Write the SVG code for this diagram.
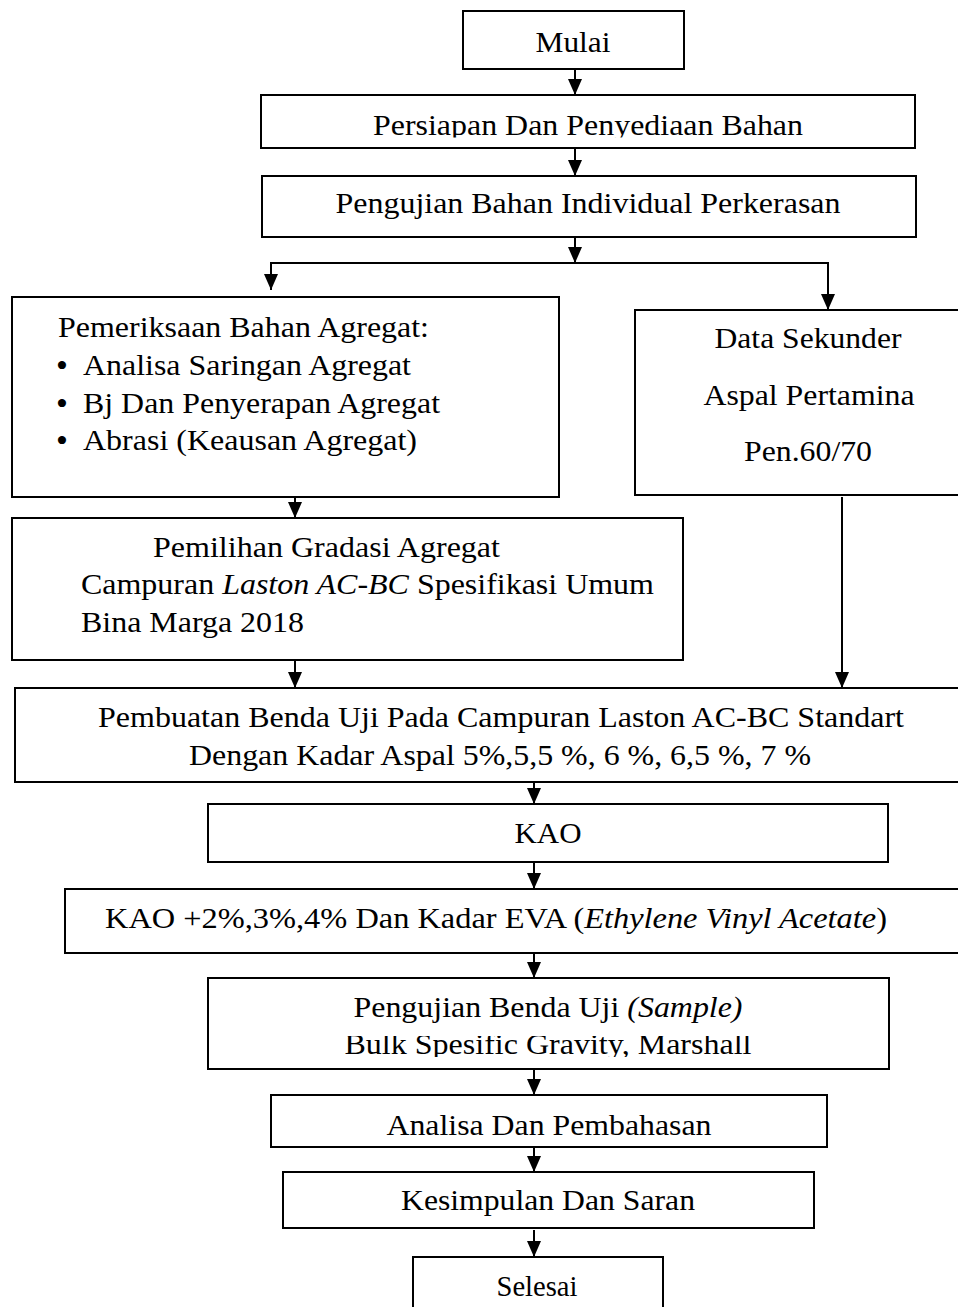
<svg xmlns="http://www.w3.org/2000/svg" width="958" height="1307" viewBox="0 0 958 1307">
<style>
.box{fill:#fff;stroke:#000;stroke-width:2}
.t{font-size:29px;fill:#000}
.b{font-size:34px;fill:#000}
.m{text-anchor:middle}
.i{font-style:italic}
.c{stroke:#000;stroke-width:2;fill:none}
</style>
<defs>
<marker id="ah" viewBox="0 0 16 14" markerWidth="16" markerHeight="14" refX="16" refY="7" orient="auto" markerUnits="userSpaceOnUse">
<path d="M0,0 L16,7 L0,14 z" fill="#000"/>
</marker>
<clipPath id="clipP"><rect x="262" y="96" width="652" height="41.5"/></clipPath>
<clipPath id="clipB"><rect x="209" y="1036" width="679" height="21"/></clipPath>
</defs>
<rect width="958" height="1307" fill="#fff"/>

<g id="connectors">
<line class="c" x1="575" y1="69" x2="575" y2="95" marker-end="url(#ah)"/>
<line class="c" x1="575" y1="148" x2="575" y2="176" marker-end="url(#ah)"/>
<line class="c" x1="575" y1="237" x2="575" y2="263" marker-end="url(#ah)"/>
<polyline class="c" points="271,272 271,263 828,263 828,272"/>
<line class="c" x1="271" y1="264" x2="271" y2="290" marker-end="url(#ah)"/>
<line class="c" x1="828" y1="264" x2="828" y2="310" marker-end="url(#ah)"/>
<line class="c" x1="295" y1="497" x2="295" y2="518" marker-end="url(#ah)"/>
<line class="c" x1="295" y1="660" x2="295" y2="688" marker-end="url(#ah)"/>
<line class="c" x1="842" y1="497" x2="842" y2="688" marker-end="url(#ah)"/>
<line class="c" x1="534" y1="782" x2="534" y2="804" marker-end="url(#ah)"/>
<line class="c" x1="534" y1="862" x2="534" y2="889" marker-end="url(#ah)"/>
<line class="c" x1="534" y1="953" x2="534" y2="978" marker-end="url(#ah)"/>
<line class="c" x1="534" y1="1069" x2="534" y2="1095" marker-end="url(#ah)"/>
<line class="c" x1="534" y1="1147" x2="534" y2="1172" marker-end="url(#ah)"/>
<line class="c" x1="534" y1="1230" x2="534" y2="1257" marker-end="url(#ah)"/>
</g>

<g font-family="Liberation Serif, Times New Roman, serif">
<g id="mulai">
<rect class="box" x="463" y="11" width="221" height="58"/>
<text class="t m" x="573" y="52" textLength="75" lengthAdjust="spacingAndGlyphs">Mulai</text>
</g>

<g id="persiapan">
<rect class="box" x="261" y="95" width="654" height="53"/>
<text class="t m" x="588" y="135" textLength="430" lengthAdjust="spacingAndGlyphs" clip-path="url(#clipP)">Persiapan Dan Penyediaan Bahan</text>
</g>

<g id="pengujian-bahan">
<rect class="box" x="262" y="176" width="654" height="61"/>
<text class="t m" x="588" y="213" textLength="505" lengthAdjust="spacingAndGlyphs">Pengujian Bahan Individual Perkerasan</text>
</g>

<g id="pemeriksaan">
<rect class="box" x="12" y="297" width="547" height="200"/>
<text class="t" x="58" y="337" textLength="371" lengthAdjust="spacingAndGlyphs">Pemeriksaan Bahan Agregat:</text>
<text class="b" x="56" y="377">•</text>
<text class="t" x="83" y="375" textLength="328" lengthAdjust="spacingAndGlyphs">Analisa Saringan Agregat</text>
<text class="b" x="56" y="415">•</text>
<text class="t" x="83" y="413" textLength="357" lengthAdjust="spacingAndGlyphs">Bj Dan Penyerapan Agregat</text>
<text class="b" x="56" y="452">•</text>
<text class="t" x="83" y="450" textLength="334" lengthAdjust="spacingAndGlyphs">Abrasi (Keausan Agregat)</text>
</g>

<g id="data-sekunder">
<rect class="box" x="635" y="310" width="330" height="185"/>
<text class="t m" x="808" y="348" textLength="187" lengthAdjust="spacingAndGlyphs">Data Sekunder</text>
<text class="t m" x="809" y="405" textLength="211" lengthAdjust="spacingAndGlyphs">Aspal Pertamina</text>
<text class="t m" x="808" y="461" textLength="128" lengthAdjust="spacingAndGlyphs">Pen.60/70</text>
</g>

<g id="pemilihan">
<rect class="box" x="12" y="518" width="671" height="142"/>
<text class="t" x="153" y="557" textLength="347" lengthAdjust="spacingAndGlyphs">Pemilihan Gradasi Agregat</text>
<text class="t" x="81" y="594" textLength="573" lengthAdjust="spacingAndGlyphs">Campuran <tspan class="i">Laston AC-BC</tspan> Spesifikasi Umum</text>
<text class="t" x="81" y="632" textLength="223" lengthAdjust="spacingAndGlyphs">Bina Marga 2018</text>
</g>

<g id="pembuatan">
<rect class="box" x="15" y="688" width="950" height="94"/>
<text class="t m" x="501" y="727" textLength="806" lengthAdjust="spacingAndGlyphs">Pembuatan Benda Uji Pada Campuran Laston AC-BC Standart</text>
<text class="t m" x="500" y="765" textLength="622" lengthAdjust="spacingAndGlyphs">Dengan Kadar Aspal 5%,5,5 %, 6 %, 6,5 %, 7 %</text>
</g>

<g id="kao">
<rect class="box" x="208" y="804" width="680" height="58"/>
<text class="t m" x="548" y="843" textLength="67" lengthAdjust="spacingAndGlyphs">KAO</text>
</g>

<g id="kao-eva">
<rect class="box" x="65" y="889" width="900" height="64"/>
<text class="t" x="105" y="928" textLength="782" lengthAdjust="spacingAndGlyphs">KAO +2%,3%,4% Dan Kadar EVA (<tspan class="i">Ethylene Vinyl Acetate</tspan>)</text>
</g>

<g id="pengujian-benda">
<rect class="box" x="208" y="978" width="681" height="91"/>
<text class="t m" x="548" y="1017" textLength="389" lengthAdjust="spacingAndGlyphs">Pengujian Benda Uji <tspan class="i">(Sample)</tspan></text>
<text class="t m" x="548" y="1054" textLength="407" lengthAdjust="spacingAndGlyphs" clip-path="url(#clipB)">Bulk Spesific Gravity, Marshall</text>
</g>

<g id="analisa">
<rect class="box" x="271" y="1095" width="556" height="52"/>
<text class="t m" x="549" y="1135" textLength="325" lengthAdjust="spacingAndGlyphs">Analisa Dan Pembahasan</text>
</g>

<g id="kesimpulan">
<rect class="box" x="283" y="1172" width="531" height="56"/>
<text class="t m" x="548" y="1210" textLength="294" lengthAdjust="spacingAndGlyphs">Kesimpulan Dan Saran</text>
</g>

<g id="selesai">
<rect class="box" x="413" y="1257" width="250" height="60"/>
<text class="t m" x="537" y="1296" textLength="81" lengthAdjust="spacingAndGlyphs">Selesai</text>
</g>
</g>
</svg>
